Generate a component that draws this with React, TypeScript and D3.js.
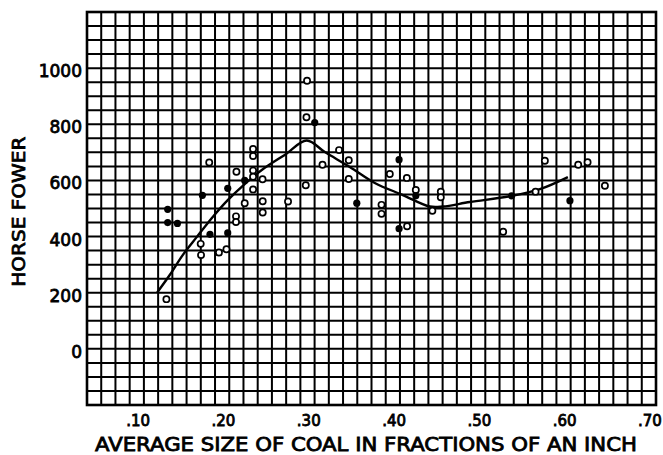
import React from "react";
import * as d3 from "d3";

// Average size of coal (fractions of an inch) and horse power; filled = solid dot
const sizes = [0.1331, 0.1346, 0.1346, 0.146, 0.1733, 0.1737, 0.1753, 0.1833, 0.1842, 0.1947, 0.2035, 0.205, 0.205, 0.2152, 0.2147, 0.2147, 0.2249, 0.2249, 0.2347, 0.2347, 0.2347, 0.2347, 0.2347, 0.2458, 0.246, 0.246, 0.2757, 0.298, 0.2973, 0.307, 0.2965, 0.3161, 0.3355, 0.3469, 0.3469, 0.3563, 0.3853, 0.3853, 0.395, 0.4059, 0.4059, 0.4153, 0.415, 0.4255, 0.4255, 0.4449, 0.4548, 0.4548, 0.5279, 0.5378, 0.5659, 0.5768, 0.6062, 0.6159, 0.6269, 0.6472];
const horsePower = [177, 497, 450, 447, 374, 334, 547, 664, 408, 343, 355, 413, 572, 631, 472, 452, 600, 519, 712, 687, 635, 613, 568, 604, 526, 486, 525, 955, 825, 806, 583, 656, 708, 672, 605, 519, 513, 481, 623, 674, 428, 437, 609, 566, 545, 492, 560, 540, 417, 545, 560, 670, 528, 656, 665, 581];
const solid = [0, 1, 1, 1, 0, 0, 1, 0, 1, 0, 0, 1, 1, 0, 0, 0, 1, 0, 0, 0, 0, 0, 0, 0, 0, 0, 0, 0, 0, 1, 0, 0, 0, 0, 0, 1, 0, 0, 0, 1, 1, 0, 0, 0, 1, 0, 0, 0, 0, 1, 0, 0, 1, 0, 0, 0];

// Smoothed curve
const curveSize = [0.1223, 0.137, 0.1522, 0.1686, 0.1874, 0.205, 0.2249, 0.2449, 0.2718, 0.2977, 0.3188, 0.3481, 0.3774, 0.4103, 0.4419, 0.4572, 0.4889, 0.5381, 0.571, 0.6038];
const curveHP = [201, 263, 334, 398, 470, 530, 587, 637, 691, 742, 701, 648, 591, 548, 507, 507, 523, 545, 569, 612];

const xTicks = [0.1, 0.2, 0.3, 0.4, 0.5, 0.6, 0.7];
const xTickLabels = [".10", ".20", ".30", ".40", ".50", ".60", ".70"];
const yTicks = [0, 200, 400, 600, 800, 1000];
const yTickLabels = ["0", "200", "400", "600", "800", "1000"];

const W = 663;
const H = 455;
const left = 87;
const right = 656;
const top = 12;
const bottom = 405;
const FONT = "'DejaVu Sans', sans-serif";

export default function App() {
  const x = d3.scaleLinear().domain([0.04, 0.7071]).range([left, right]);
  const y = d3.scaleLinear().domain([-200, 1200]).range([bottom, top]);

  const [x0, x1] = x.domain();
  const cols = d3.range(41).map((i) => x(x0 + ((x1 - x0) * i) / 40));
  const rows = d3.range(-200, 1201, 50).map((v) => y(v));

  const line = d3
    .line<number>()
    .x((i) => x(curveSize[i]))
    .y((i) => y(curveHP[i]))
    .curve(d3.curveCatmullRom.alpha(0.5));
  const curvePath = line(d3.range(curveSize.length)) || "";

  return (
    <svg
      width={W}
      height={H}
      style={{ position: "absolute", left: 0, top: 0, display: "block", background: "#fff" }}
    >
      <rect x={0} y={0} width={W} height={H} fill="#fff" />
      <g stroke="#000" strokeWidth={2}>
        {cols.map((cx, i) => (
          <line key={"c" + i} x1={cx} x2={cx} y1={top} y2={bottom} />
        ))}
        {rows.map((ry, i) => (
          <line key={"r" + i} x1={left} x2={right} y1={ry} y2={ry} />
        ))}
      </g>
      <rect x={left} y={top} width={right - left} height={bottom - top} fill="none" stroke="#000" strokeWidth={2.6} />

      <path d={curvePath} fill="none" stroke="#000" strokeWidth={2.4} strokeLinejoin="round" />

      {sizes.map((s, i) =>
        solid[i] ? (
          <circle key={"p" + i} cx={x(s)} cy={y(horsePower[i])} r={3.6} fill="#000" />
        ) : (
          <circle key={"p" + i} cx={x(s)} cy={y(horsePower[i])} r={3.1} fill="#fff" stroke="#000" strokeWidth={1.7} />
        )
      )}

      <g fontFamily={FONT} fill="#000" stroke="#000" strokeWidth={0.8}>
        {yTicks.map((v, i) => (
          <text key={"yt" + i} x={82} y={y(v) + 9} fontSize={17} textAnchor="end">
            {yTickLabels[i]}
          </text>
        ))}
        {xTicks.map((v, i) => (
          <text key={"xt" + i} x={x(v)} y={426} fontSize={15} textAnchor="middle">
            {xTickLabels[i]}
          </text>
        ))}
        <text x={95} y={451} fontSize={19} textLength={542} lengthAdjust="spacingAndGlyphs">
          AVERAGE SIZE OF COAL IN FRACTIONS OF AN INCH
        </text>
        <text
          transform={`translate(25,211.7) rotate(-90)`}
          fontSize={18}
          textAnchor="middle"
          textLength={150}
          lengthAdjust="spacingAndGlyphs"
        >
          HORSE FOWER
        </text>
      </g>
    </svg>
  );
}
